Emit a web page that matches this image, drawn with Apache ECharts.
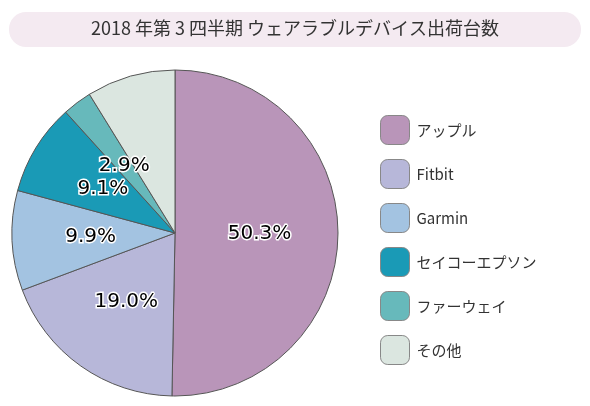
<!DOCTYPE html>
<html><head><meta charset="utf-8">
<script src="https://cdn.jsdelivr.net/npm/echarts@6/dist/echarts.min.js"></script>
<style>html,body{margin:0;padding:0;background:#fff}#c{width:590px;height:406px}</style>
</head><body><div id="c"></div>
<script>
const titleText = '2018 年第 3 四半期 ウェアラブルデバイス出荷台数';
const categories = ['アップル', 'Fitbit', 'Garmin', 'セイコーエプソン', 'ファーウェイ', 'その他'];
const shares = [50.3, 19.0, 9.9, 9.1, 2.9, 8.8];
const colors = ['#b995b9', '#b7b7d9', '#a3c3e1', '#1a9ab6', '#67b9bb', '#dbe6e0'];

const chart = echarts.init(document.getElementById('c'));
chart.setOption({
  animation: false,
  color: colors,
  graphic: [{
    type: 'rect', shape: { x: 9, y: 12, width: 572, height: 35, r: 17 },
    style: { fill: '#f4eaf1' }
  }, {
    type: 'text', left: 'center', top: 19,
    style: { text: titleText, fontSize: 18, fill: '#333', fontFamily: '"Noto Sans CJK JP", sans-serif' }
  }],
  legend: {
    orient: 'vertical', left: 375, top: 110,
    icon: 'roundRect', itemWidth: 29, itemHeight: 29, itemGap: 14,
    itemStyle: { borderColor: '#888', borderWidth: 1 },
    textStyle: { fontSize: 15, color: '#333', padding: [0, 0, 0, 2], fontFamily: '"Noto Sans CJK JP", sans-serif' },
    data: categories
  },
  series: [{
    type: 'pie', center: [175, 233], radius: 163, startAngle: 90, clockwise: true,
    itemStyle: { borderColor: '#555', borderWidth: 1 },
    label: {
      position: 'inside', formatter: p => p.value.toFixed(1) + '%',
      fontSize: 20, color: '#000', textBorderColor: '#fff', textBorderWidth: 3,
      fontFamily: 'Verdana, "DejaVu Sans", sans-serif'
    },
    labelLine: { show: false },
    emphasis: { disabled: true },
    data: categories.map((n, i) => ({ name: n, value: shares[i] }))
  }]
});
</script></body></html>
